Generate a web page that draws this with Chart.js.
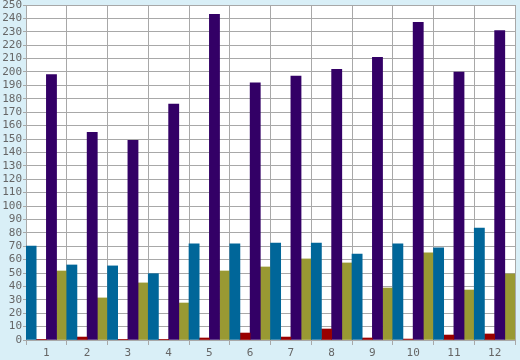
<!DOCTYPE html>
<html>
<head>
<meta charset="utf-8">
<script src="https://cdn.jsdelivr.net/npm/chart.js@4/dist/chart.umd.min.js"></script>
<style>
  html, body { margin: 0; padding: 0; background: #d9eff7; }
  #grafica { display: block; }
</style>
</head>
<body>
<canvas id="grafica" width="520" height="360"></canvas>
<script>
// Categorías (meses 1..12)
const categorias = ['1', '2', '3', '4', '5', '6', '7', '8', '9', '10', '11', '12'];

// Series
const serieAzul    = [70, 56, 55.3, 49.5, 71.7, 71.7, 72.4, 72.4, 64.2, 71.7, 68.7, 83.5];
const serieRoja    = [0.5, 2.2, 0.5, 0.5, 1.5, 5.2, 2.2, 8.2, 1.5, 0.7, 3.7, 4.5];
const serieMorada  = [198, 155, 149, 176, 243, 192, 197, 202, 211, 237, 200, 231];
const serieOliva   = [51.5, 31.4, 42.6, 27.6, 51.5, 54.5, 60.5, 57.5, 38.8, 65, 37.3, 49.3];

const ejeY = { min: 0, max: 250, paso: 10 };

// Fondo blanco solo en el área del gráfico
const fondoArea = {
    id: 'fondoArea',
    beforeDraw(chart) {
        const { ctx, chartArea } = chart;
        ctx.save();
        ctx.fillStyle = '#d9eff7';
        ctx.fillRect(0, 0, chart.width, chart.height);
        ctx.fillStyle = '#ffffff';
        ctx.fillRect(chartArea.left, chartArea.top, chartArea.right - chartArea.left, chartArea.bottom - chartArea.top);
        ctx.restore();
    }
};

const fuente = { family: '"DejaVu Sans Mono", monospace', size: 11 };

new Chart(document.getElementById('grafica').getContext('2d'), {
    type: 'bar',
    data: {
        labels: categorias,
        datasets: [
            { data: serieAzul,   backgroundColor: '#006699' },
            { data: serieRoja,   backgroundColor: '#990000' },
            { data: serieMorada, backgroundColor: '#330066' },
            { data: serieOliva,  backgroundColor: '#999933' }
        ]
    },
    options: {
        responsive: false,
        animation: false,
        layout: { padding: { left: 0, top: 5, right: 5, bottom: 0 } },
        datasets: {
            bar: { categoryPercentage: 1, barPercentage: 1, borderWidth: 0 }
        },
        plugins: {
            legend: { display: false },
            tooltip: { enabled: false }
        },
        scales: {
            x: {
                offset: true,
                grid: { color: '#a8a8a8', lineWidth: 1, tickLength: 5, offset: true },
                border: { color: '#a8a8a8' },
                ticks: { color: '#666666', font: fuente, padding: 2, autoSkip: false, maxRotation: 0 },
                afterFit(scale) { scale.height = 20; scale.paddingLeft = 0; scale.paddingRight = 0; }
            },
            y: {
                min: ejeY.min,
                max: ejeY.max,
                grid: { color: '#a8a8a8', lineWidth: 1, tickLength: 3 },
                border: { color: '#a8a8a8' },
                ticks: { stepSize: ejeY.paso, color: '#666666', font: fuente, padding: 1, autoSkip: false },
                afterFit(scale) { scale.width = 26; scale.paddingTop = 0; scale.paddingBottom = 0; }
            }
        }
    },
    plugins: [fondoArea]
});
</script>
</body>
</html>
